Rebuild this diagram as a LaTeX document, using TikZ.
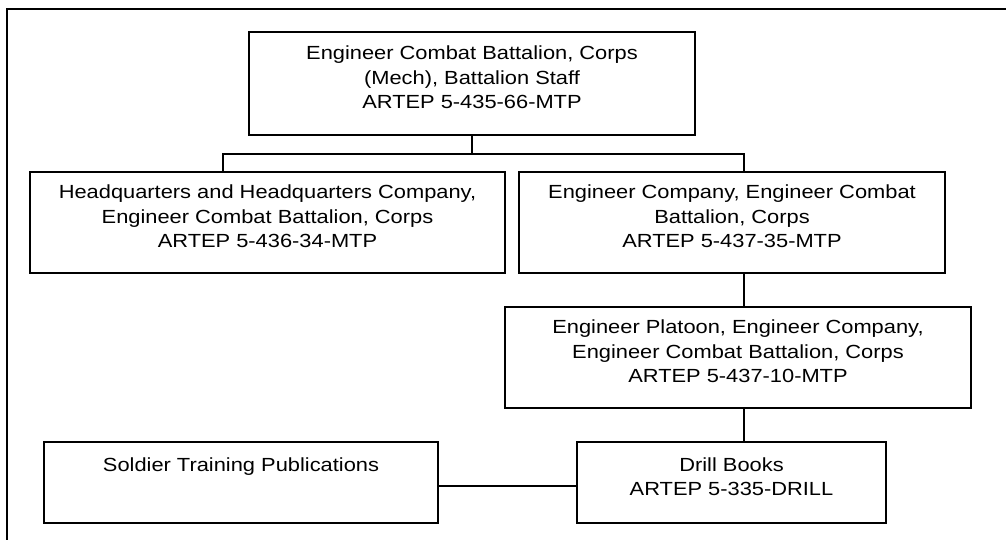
\documentclass[tikz,border=0pt]{standalone}
\usepackage{fontspec}
\setmainfont{Liberation Sans}[FakeStretch=1.15]
\begin{document}
\begin{tikzpicture}[x=1pt,y=-1pt,
  box/.style={draw, line width=1.4pt, inner sep=0pt, align=center,
    text depth=12pt, font=\fontsize{19}{24.5}\selectfont},
  link/.style={line width=1.4pt}]
\useasboundingbox (0,0) rectangle (1006,540);
% outer frame (left and top edges)
\draw[line width=1.3pt] (7,540) -- (7,9) -- (1006,9);
% boxes
\node[box, minimum width=446pt, minimum height=103pt] (top) at (472,83.5)
  {Engineer Combat Battalion, Corps\\(Mech), Battalion Staff\\ARTEP 5-435-66-MTP};
\node[box, minimum width=475pt, minimum height=101pt] (hq) at (267.5,222.5)
  {Headquarters and Headquarters Company,\\Engineer Combat Battalion, Corps\\ARTEP 5-436-34-MTP};
\node[box, minimum width=426pt, minimum height=101pt] (ec) at (732,222.5)
  {Engineer Company, Engineer Combat\\Battalion, Corps\\ARTEP 5-437-35-MTP};
\node[box, minimum width=466pt, minimum height=101pt] (plat) at (738,357.5)
  {Engineer Platoon, Engineer Company,\\Engineer Combat Battalion, Corps\\ARTEP 5-437-10-MTP};
\node[box, minimum width=309pt, minimum height=81pt] (drill) at (731.5,482.5)
  {Drill Books\\ARTEP 5-335-DRILL};
\node[box, minimum width=394pt, minimum height=81pt] (stp) at (241,482.5)
  {Soldier Training Publications\\\strut};
% connector coordinates
\coordinate (bar) at (0,154);
\coordinate (lx) at (223,0);
\coordinate (rx) at (744,0);
% connectors
\draw[link] (top.south) -- (top.south |- bar);
\draw[link] (lx |- hq.north) -- (lx |- bar) -- (rx |- bar) -- (rx |- ec.north);
\draw[link] (rx |- ec.south) -- (rx |- plat.north);
\draw[link] (rx |- plat.south) -- (rx |- drill.north);
\draw[link] ([yshift=-3.5pt]stp.east) -- ([yshift=-3.5pt]drill.west);
\end{tikzpicture}
\end{document}
